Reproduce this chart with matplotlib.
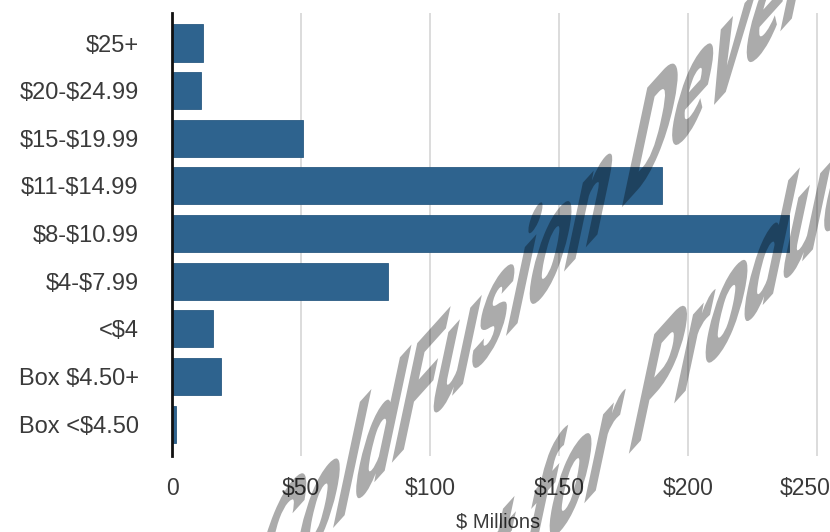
import matplotlib
matplotlib.use("Agg")
import matplotlib.pyplot as plt
from matplotlib.textpath import TextPath
from matplotlib.font_manager import FontProperties
from matplotlib.patches import PathPatch
from matplotlib.transforms import Affine2D, ScaledTranslation
import numpy as np

# price bands, top to bottom as shown in the chart
categories = ["$25+", "$20-$24.99", "$15-$19.99", "$11-$14.99", "$8-$10.99",
              "$4-$7.99", "<$4", "Box $4.50+", "Box <$4.50"]
# sales in $ millions
sales = [11.9, 11.1, 50.9, 190.0, 239.0, 83.7, 16.0, 19.0, 1.6]

xticks = [0, 50, 100, 150, 200, 250]
xtick_labels = ["0", "$50", "$100", "$150", "$200", "$250"]

plt.rcParams["font.family"] = ["Liberation Sans", "DejaVu Sans"]
plt.rcParams["text.parse_math"] = False

W, H = 830, 532
fig = plt.figure(figsize=(W / 100, H / 100), dpi=100)
ax = fig.add_axes([172 / W, 76 / H, (825 - 172) / W, (519 - 76) / H])

# bottom-up order for barh
ypos = np.arange(len(categories))[::-1]
ax.barh(ypos, sales, height=0.78, color="#2e638e", edgecolor="#2a5a82",
        linewidth=0.6, zorder=2)

ax.set_xlim(0, 253)
ax.set_ylim(-0.67, 8.63)
ax.set_yticks(ypos)
ax.set_yticklabels(categories)
ax.set_xticks(xticks)
ax.set_xticklabels(xtick_labels)
ax.tick_params(axis="both", length=0, colors="#3a3a3a")
ax.tick_params(axis="x", pad=15, labelsize=16.5)
ax.tick_params(axis="y", pad=24, labelsize=17)
# last label pulled in so it stays on the canvas
last = ax.get_xticklabels()[-1]
last.set_transform(last.get_transform() + ScaledTranslation(-12 / 100, 0, fig.dpi_scale_trans))

# vertical grid
for x in xticks[1:]:
    ax.axvline(x, color="#d9d9d9", linewidth=1.3, zorder=1)

for s in ["top", "right", "bottom"]:
    ax.spines[s].set_visible(False)
ax.spines["left"].set_color("#111111")
ax.spines["left"].set_linewidth(2)
ax.spines["left"].set_zorder(3)

ax.set_xlabel("$ Millions", fontsize=14.5, color="#3a3a3a", labelpad=9)

# skewed watermark over everything
fp = FontProperties(family=["Roboto", "Lato", "Liberation Sans"], weight=900)
ang_u, ang_v = np.radians(48), np.radians(78)
su, sv = 105, 172
a = np.array([su * np.cos(ang_u), su * np.sin(ang_u)])
b = np.array([sv * np.cos(ang_v), sv * np.sin(ang_v)])
# (text, prefix before the anchor letter, anchor pixel from top-left)
lines = [("ColdFusion Developer Edition", "Cold", (388, 467)),
         ("Not for Production", "Not for ", (625, 458))]
for txt, prefix, (px, py) in lines:
    tp = TextPath((0, 0), txt, size=1, prop=fp)
    off = TextPath((0, 0), prefix + "F", size=1, prop=fp).get_extents().x1 - \
        TextPath((0, 0), "F", size=1, prop=fp).get_extents().x1
    o = np.array([px, H - py]) - off * a
    m = Affine2D(np.array([[a[0], b[0], o[0]], [a[1], b[1], o[1]], [0, 0, 1]]))
    tr = m + Affine2D().scale(1 / W, 1 / H) + fig.transFigure
    patch = PathPatch(tp, facecolor="black", edgecolor="none", alpha=0.33,
                      transform=tr, zorder=10)
    fig.add_artist(patch)

fig.savefig("out.png", dpi=100)
